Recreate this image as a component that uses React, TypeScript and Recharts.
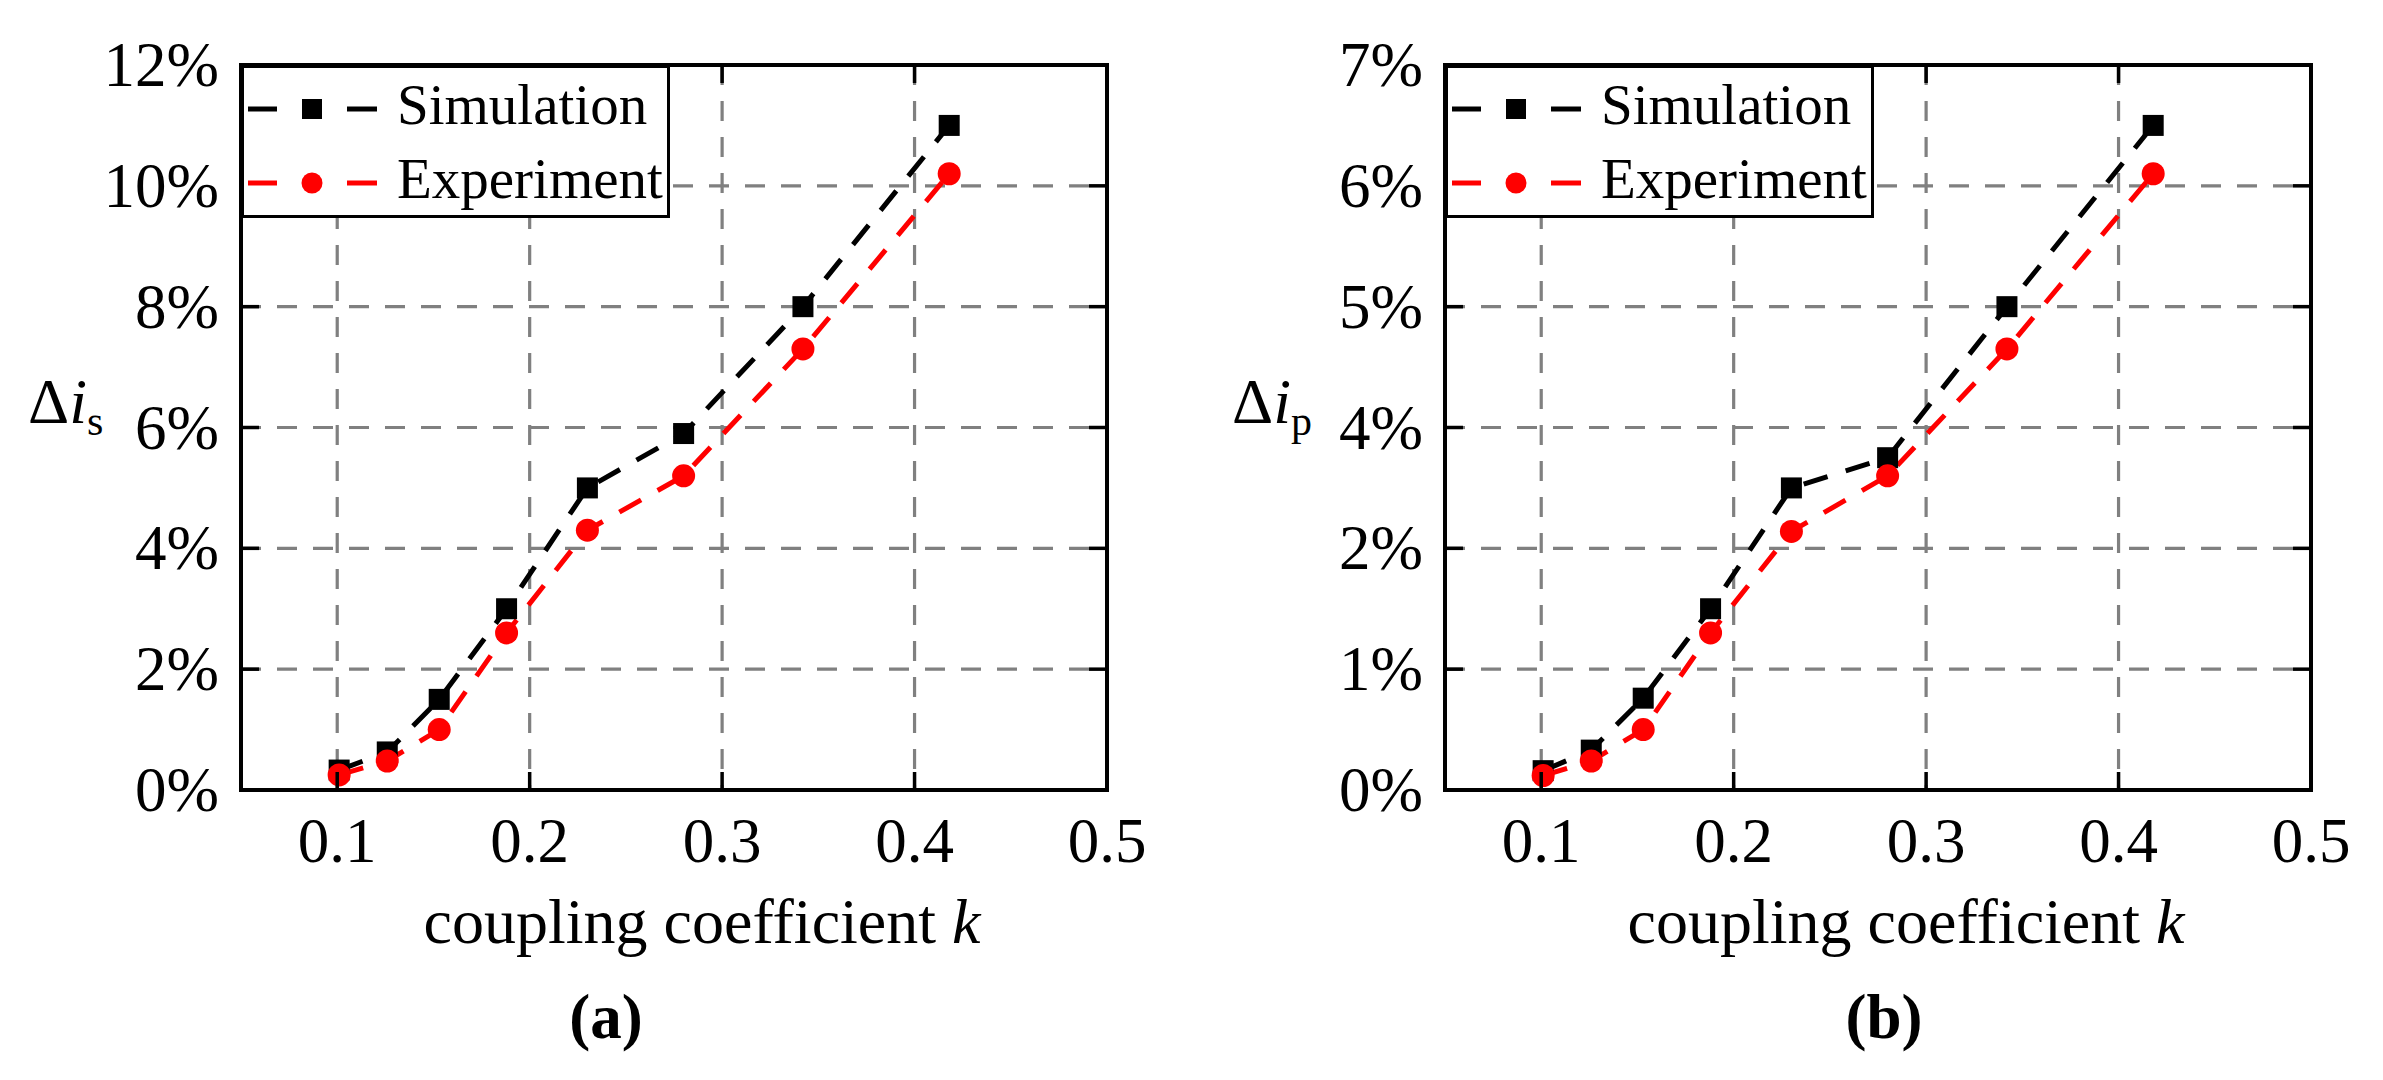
import React from 'react';
import { LineChart, Line, XAxis, YAxis, CartesianGrid, Legend, Label } from 'recharts';

// ---------------- data ----------------
const kValues = [0.101, 0.126, 0.153, 0.188, 0.23, 0.28, 0.342, 0.418];
// panel (a): Δi_s in %
const simulationS = [0.33, 0.63, 1.5, 3.0, 5.0, 5.9, 8.0, 11.0];
const experimentS = [0.25, 0.48, 1.0, 2.6, 4.3, 5.2, 7.3, 10.2];
// panel (b): Δi_p, in positions of the evenly spaced printed ticks (labelled 0,1,2,4,5,6,7 %)
const simulationP = [0.16, 0.33, 0.76, 1.5, 2.5, 2.75, 4.0, 5.5];
const experimentP = [0.12, 0.24, 0.5, 1.3, 2.14, 2.6, 3.65, 5.1];

const xTicks = [0.1, 0.2, 0.3, 0.4, 0.5];
const xTickLabels = ['0.1', '0.2', '0.3', '0.4', '0.5'];
const yTicksS = [0, 2, 4, 6, 8, 10, 12];
const yTickLabelsS = ['0%', '2%', '4%', '6%', '8%', '10%', '12%'];
const yTicksP = [0, 1, 2, 3, 4, 5, 6];
const yTickLabelsP = ['0%', '1%', '2%', '4%', '5%', '6%', '7%'];
const seriesNames = ['Simulation', 'Experiment'];
const xTitleText = 'coupling coefficient ';
const xTitleVar = 'k';

// ---------------- style ----------------
const FONT = '"Liberation Serif", "Times New Roman", Times, serif';
const TICK_LEN = 18;
const FRAME_W = 4;
const BLACK = '#000000';
const RED = '#ff0000';
const GRID = '#808080';
const SERIES_W = 5;
const SERIES_DASH = '25 19';

const lookup = (ticks: number[], labels: string[], v: number) => {
  const i = ticks.findIndex((t) => Math.abs(t - v) < 1e-9);
  return i >= 0 ? labels[i] : String(v);
};

const makeBottomTick = (ticks: number[], labels: string[]) => (props: any) => {
  const { x, y, payload } = props;
  return (
    <g>
      <line x1={x} y1={y} x2={x} y2={y - TICK_LEN} stroke={BLACK} strokeWidth={3.5} />
      <text x={x} y={y + 72} textAnchor="middle" fontFamily={FONT} fontSize={63} fill={BLACK}>
        {lookup(ticks, labels, payload.value)}
      </text>
    </g>
  );
};
const TopTick = (props: any) => {
  const { x, y } = props;
  return <line x1={x} y1={y} x2={x} y2={y + TICK_LEN} stroke={BLACK} strokeWidth={3.5} />;
};
const makeLeftTick = (ticks: number[], labels: string[]) => (props: any) => {
  const { x, y, payload } = props;
  return (
    <g>
      <line x1={x} y1={y} x2={x + TICK_LEN} y2={y} stroke={BLACK} strokeWidth={3.5} />
      <text x={x - 22} y={y + 21} textAnchor="end" fontFamily={FONT} fontSize={63} fill={BLACK}>
        {lookup(ticks, labels, payload.value)}
      </text>
    </g>
  );
};
const RightTick = (props: any) => {
  const { x, y } = props;
  return <line x1={x} y1={y} x2={x - TICK_LEN} y2={y} stroke={BLACK} strokeWidth={3.5} />;
};

const SquareDot = (props: any) => {
  const { cx, cy, index } = props;
  if (cx == null || cy == null) return <g key={`s${index}`} />;
  return <rect key={`s${index}`} x={cx - 10.5} y={cy - 10.5} width={21} height={21} fill={BLACK} />;
};
const CircleDot = (props: any) => {
  const { cx, cy, index } = props;
  if (cx == null || cy == null) return <g key={`c${index}`} />;
  return <circle key={`c${index}`} cx={cx} cy={cy} r={11.5} fill={RED} />;
};

const LegendBox = (props: any) => {
  const payload = [...(props.payload || [])].sort(
    (a: any, b: any) => seriesNames.indexOf(a.value) - seriesNames.indexOf(b.value)
  );
  return (
    <svg width={429} height={153} style={{ display: 'block' }}>
      <rect x={1.5} y={1.5} width={426} height={150} fill="#ffffff" stroke={BLACK} strokeWidth={3} />
      {payload.map((entry: any, i: number) => {
        const cy = 44 + i * 74;
        const color = entry.color;
        const isSquare = entry.dataKey === 'sim';
        return (
          <g key={i}>
            <line x1={7} y1={cy} x2={36} y2={cy} stroke={color} strokeWidth={SERIES_W} />
            <line x1={106} y1={cy} x2={136} y2={cy} stroke={color} strokeWidth={SERIES_W} />
            {isSquare ? (
              <rect x={61} y={cy - 10} width={20} height={20} fill={color} />
            ) : (
              <circle cx={71} cy={cy} r={10.5} fill={color} />
            )}
            <text x={156} y={cy + 15} fontFamily={FONT} fontSize={57} fill={BLACK}>
              {entry.value}
            </text>
          </g>
        );
      })}
    </svg>
  );
};

const makeXTitle = (caption: string, captionDx: number) => (props: any) => {
  const vb = props.viewBox || { x: 0, y: 0, width: 0, height: 0 };
  const cx = vb.x + vb.width / 2;
  return (
    <g>
      <text x={cx + 28} y={vb.y + 153} textAnchor="middle" fontFamily={FONT} fontSize={64} fill={BLACK}>
        {xTitleText}
        <tspan fontStyle="italic">{xTitleVar}</tspan>
      </text>
      <text x={cx + captionDx} y={vb.y + 248} textAnchor="middle" fontFamily={FONT} fontSize={63} fontWeight="bold" fill={BLACK}>
        {caption}
      </text>
    </g>
  );
};

const makeYTitle = (sub: string) => (props: any) => {
  const vb = props.viewBox || { x: 0, y: 0, width: 0, height: 0 };
  const x = vb.x + vb.width - 213;
  const y = vb.y + vb.height / 2 - 5;
  return (
    <text x={x} y={y} fontFamily={FONT} fontSize={64} fill={BLACK}>
      Δ<tspan fontStyle="italic">i</tspan>
      <tspan fontSize={42} dy={12}>{sub}</tspan>
    </text>
  );
};

type PanelProps = {
  sim: number[];
  exp: number[];
  yTicks: number[];
  yLabels: string[];
  sub: string;
  caption: string;
  captionDx: number;
  width: number;
  marginRight: number;
};

const Panel = ({ sim, exp, yTicks, yLabels, sub, caption, captionDx, width, marginRight }: PanelProps) => {
  const data = kValues.map((k, i) => ({ k, sim: sim[i], exp: exp[i] }));
  const yDomain = [yTicks[0], yTicks[yTicks.length - 1]];
  const frame = { stroke: BLACK, strokeWidth: FRAME_W, strokeLinecap: 'square' as const };
  return (
    <LineChart width={width} height={1080} data={data} margin={{ top: 64, right: marginRight - 1, bottom: 289, left: 240 }}>
      <CartesianGrid xAxisId="b" yAxisId="l" stroke={GRID} strokeWidth={3.2} strokeDasharray="20 16" />
      <Line
        xAxisId="b"
        yAxisId="l"
        type="linear"
        dataKey="sim"
        name={seriesNames[0]}
        stroke={BLACK}
        strokeWidth={SERIES_W}
        strokeDasharray={SERIES_DASH}
        dot={SquareDot}
        activeDot={false}
        isAnimationActive={false}
      />
      <Line
        xAxisId="b"
        yAxisId="l"
        type="linear"
        dataKey="exp"
        name={seriesNames[1]}
        stroke={RED}
        strokeWidth={SERIES_W}
        strokeDasharray={SERIES_DASH}
        dot={CircleDot}
        activeDot={false}
        isAnimationActive={false}
      />
      <XAxis
        xAxisId="b"
        dataKey="k"
        type="number"
        domain={[0.05, 0.5]}
        allowDataOverflow
        ticks={xTicks}
        interval={0}
        height={1}
        tickSize={0}
        tickMargin={0}
        tickLine={false}
        axisLine={frame}
        tick={makeBottomTick(xTicks, xTickLabels)}
      >
        <Label content={makeXTitle(caption, captionDx)} />
      </XAxis>
      <XAxis
        xAxisId="t"
        orientation="top"
        dataKey="k"
        type="number"
        domain={[0.05, 0.5]}
        allowDataOverflow
        ticks={xTicks}
        interval={0}
        height={1}
        tickSize={0}
        tickMargin={0}
        tickLine={false}
        axisLine={frame}
        tick={TopTick}
      />
      <YAxis
        yAxisId="l"
        type="number"
        domain={yDomain}
        allowDataOverflow
        ticks={yTicks}
        interval={0}
        width={1}
        tickSize={0}
        tickMargin={0}
        tickLine={false}
        axisLine={frame}
        tick={makeLeftTick(yTicks, yLabels)}
      >
        <Label content={makeYTitle(sub)} />
      </YAxis>
      <YAxis
        yAxisId="r"
        orientation="right"
        type="number"
        domain={yDomain}
        allowDataOverflow
        ticks={yTicks}
        interval={0}
        width={1}
        tickSize={0}
        tickMargin={0}
        tickLine={false}
        axisLine={frame}
        tick={RightTick}
      />
      <Legend
        layout="vertical"
        align="center"
        verticalAlign="middle"
        itemSorter={null as any}
        content={LegendBox}
        wrapperStyle={{ left: 241, top: 65, width: 429, height: 153 }}
      />
    </LineChart>
  );
};

export default function App() {
  return (
    <div style={{ position: 'absolute', left: 0, top: 0, width: 2383, height: 1080, background: '#ffffff', overflow: 'hidden' }}>
      <div style={{ position: 'absolute', left: 0, top: 0 }}>
        <Panel sim={simulationS} exp={experimentS} yTicks={yTicksS} yLabels={yTickLabelsS} sub="s" caption="(a)" captionDx={-68} width={1190} marginRight={83} />
      </div>
      <div style={{ position: 'absolute', left: 1204, top: 0 }}>
        <Panel sim={simulationP} exp={experimentP} yTicks={yTicksP} yLabels={yTickLabelsP} sub="p" caption="(b)" captionDx={6} width={1179} marginRight={72} />
      </div>
    </div>
  );
}
